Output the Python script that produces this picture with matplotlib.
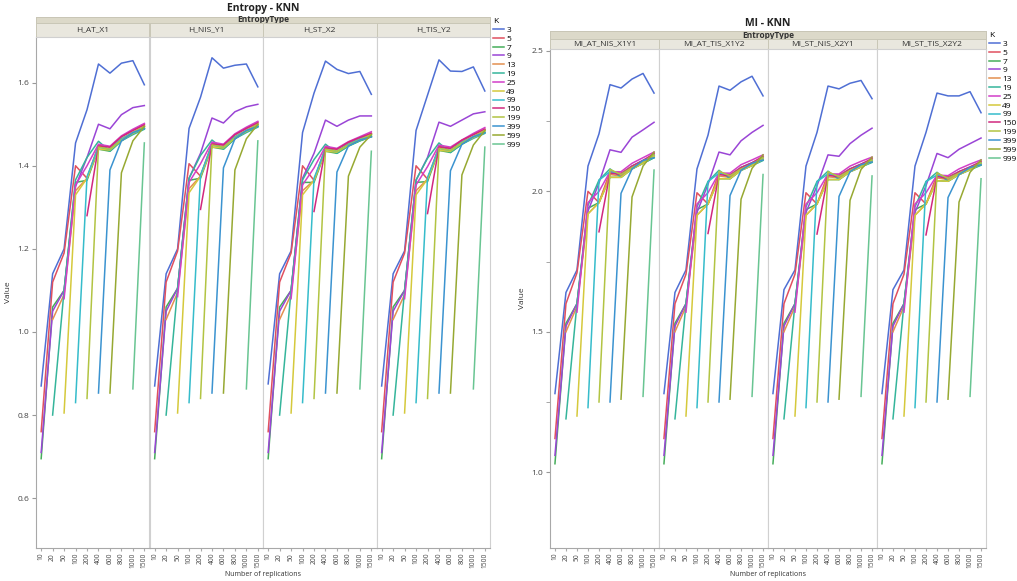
import numpy as np
import matplotlib
matplotlib.use("Agg")
import matplotlib.pyplot as plt
from matplotlib.lines import Line2D

plt.rcParams['font.family'] = ['Open Sans', 'DejaVu Sans']

# Data
reps = [10, 20, 50, 100, 200, 400, 600, 800, 1000, 1500]
k_values = [3, 5, 7, 9, 13, 19, 25, 49, 99, 150, 199, 399, 599, 999]
k_colors = ['#4f6fd4', '#e0505f', '#45ad5a', '#9a45d6', '#e39050', '#35b59b', '#d23fc9',
            '#d5c93c', '#36bccb', '#d1287e', '#b2c443', '#3b93d0', '#97a932', '#69c592']

entropy_types = ['H_AT_X1', 'H_NIS_Y1', 'H_ST_X2', 'H_TIS_Y2']
mi_types = ['MI_AT_NIS_X1Y1', 'MI_AT_TIS_X1Y2', 'MI_ST_NIS_X2Y1', 'MI_ST_TIS_X2Y2']

N = None
# one row per K (same order as k_values), one column per replication count
h_at_x1 = [
    [0.870, 1.140, 1.200, 1.455, 1.535, 1.645, 1.623, 1.647, 1.653, 1.595],
    [0.760, 1.120, 1.190, 1.400, 1.370, 1.450, 1.445, 1.470, 1.485, 1.500],
    [0.695, 1.060, 1.100, 1.360, 1.365, 1.440, 1.435, 1.460, 1.478, 1.490],
    [0.710, 1.050, 1.100, 1.350, 1.420, 1.500, 1.489, 1.523, 1.540, 1.545],
    [N, 1.030, 1.090, 1.340, 1.370, 1.445, 1.440, 1.465, 1.480, 1.495],
    [N, 0.800, 1.100, 1.366, 1.420, 1.459, 1.435, 1.460, 1.475, 1.488],
    [N, N, 1.080, 1.354, 1.400, 1.452, 1.447, 1.472, 1.488, 1.502],
    [N, N, 0.805, 1.330, 1.370, 1.440, 1.438, 1.462, 1.478, 1.492],
    [N, N, N, 0.830, 1.374, 1.445, 1.440, 1.465, 1.480, 1.490],
    [N, N, N, N, 1.280, 1.447, 1.445, 1.470, 1.485, 1.498],
    [N, N, N, N, 0.840, 1.445, 1.440, 1.462, 1.480, 1.495],
    [N, N, N, N, N, 0.853, 1.390, 1.460, 1.480, 1.490],
    [N, N, N, N, N, N, 0.853, 1.383, 1.460, 1.495],
    [N, N, N, N, N, N, N, N, 0.863, 1.455],
]
h_nis_y1 = [
    [0.870, 1.140, 1.200, 1.490, 1.565, 1.660, 1.635, 1.642, 1.645, 1.590],
    [0.760, 1.120, 1.195, 1.405, 1.375, 1.455, 1.450, 1.475, 1.490, 1.505],
    [0.695, 1.060, 1.105, 1.365, 1.370, 1.445, 1.440, 1.465, 1.483, 1.495],
    [0.710, 1.050, 1.105, 1.370, 1.430, 1.515, 1.503, 1.530, 1.542, 1.548],
    [N, 1.030, 1.095, 1.345, 1.375, 1.450, 1.445, 1.470, 1.485, 1.500],
    [N, 0.800, 1.105, 1.370, 1.425, 1.462, 1.440, 1.465, 1.480, 1.493],
    [N, N, 1.085, 1.360, 1.405, 1.457, 1.452, 1.477, 1.493, 1.507],
    [N, N, 0.805, 1.335, 1.375, 1.445, 1.443, 1.467, 1.483, 1.497],
    [N, N, N, 0.830, 1.378, 1.450, 1.445, 1.470, 1.485, 1.495],
    [N, N, N, N, 1.295, 1.452, 1.450, 1.475, 1.490, 1.503],
    [N, N, N, N, 0.840, 1.450, 1.445, 1.467, 1.485, 1.500],
    [N, N, N, N, N, 0.853, 1.395, 1.465, 1.485, 1.495],
    [N, N, N, N, N, N, 0.853, 1.390, 1.465, 1.500],
    [N, N, N, N, N, N, N, N, 0.863, 1.460],
]
h_st_x2 = [
    [0.875, 1.140, 1.195, 1.480, 1.575, 1.652, 1.632, 1.622, 1.627, 1.572],
    [0.760, 1.120, 1.190, 1.400, 1.365, 1.445, 1.440, 1.455, 1.465, 1.478],
    [0.695, 1.060, 1.100, 1.360, 1.360, 1.435, 1.430, 1.448, 1.460, 1.470],
    [0.710, 1.050, 1.100, 1.370, 1.430, 1.510, 1.495, 1.510, 1.520, 1.520],
    [N, 1.030, 1.090, 1.340, 1.365, 1.440, 1.435, 1.450, 1.463, 1.475],
    [N, 0.800, 1.100, 1.366, 1.415, 1.452, 1.430, 1.447, 1.460, 1.470],
    [N, N, 1.080, 1.354, 1.395, 1.447, 1.442, 1.458, 1.470, 1.482],
    [N, N, 0.805, 1.330, 1.365, 1.435, 1.433, 1.450, 1.462, 1.472],
    [N, N, N, 0.830, 1.370, 1.440, 1.435, 1.452, 1.465, 1.472],
    [N, N, N, N, 1.290, 1.442, 1.440, 1.457, 1.468, 1.478],
    [N, N, N, N, 0.840, 1.440, 1.435, 1.450, 1.463, 1.475],
    [N, N, N, N, N, 0.853, 1.385, 1.448, 1.462, 1.470],
    [N, N, N, N, N, N, 0.853, 1.375, 1.445, 1.475],
    [N, N, N, N, N, N, N, N, 0.863, 1.435],
]
h_tis_y2 = [
    [0.870, 1.140, 1.195, 1.485, 1.570, 1.655, 1.628, 1.627, 1.638, 1.580],
    [0.760, 1.120, 1.190, 1.400, 1.368, 1.447, 1.442, 1.460, 1.475, 1.488],
    [0.695, 1.060, 1.100, 1.360, 1.362, 1.437, 1.432, 1.452, 1.468, 1.480],
    [0.710, 1.050, 1.100, 1.365, 1.420, 1.505, 1.495, 1.510, 1.525, 1.530],
    [N, 1.030, 1.090, 1.340, 1.368, 1.442, 1.437, 1.455, 1.470, 1.485],
    [N, 0.800, 1.100, 1.366, 1.418, 1.455, 1.432, 1.452, 1.466, 1.478],
    [N, N, 1.080, 1.354, 1.398, 1.450, 1.445, 1.462, 1.478, 1.492],
    [N, N, 0.805, 1.330, 1.368, 1.437, 1.435, 1.455, 1.468, 1.482],
    [N, N, N, 0.830, 1.372, 1.442, 1.437, 1.457, 1.470, 1.480],
    [N, N, N, N, 1.285, 1.445, 1.442, 1.462, 1.475, 1.488],
    [N, N, N, N, 0.840, 1.442, 1.437, 1.455, 1.470, 1.485],
    [N, N, N, N, N, 0.853, 1.388, 1.452, 1.470, 1.480],
    [N, N, N, N, N, N, 0.853, 1.378, 1.450, 1.485],
    [N, N, N, N, N, N, N, N, 0.863, 1.445],
]

mi_at_nis = [
    [1.280, 1.640, 1.720, 2.090, 2.205, 2.380, 2.368, 2.400, 2.420, 2.350],
    [1.120, 1.600, 1.710, 2.000, 1.960, 2.070, 2.065, 2.090, 2.110, 2.130],
    [1.030, 1.530, 1.600, 1.940, 1.960, 2.050, 2.050, 2.080, 2.100, 2.120],
    [1.060, 1.520, 1.600, 1.930, 2.030, 2.148, 2.139, 2.193, 2.219, 2.246],
    [N, 1.500, 1.590, 1.920, 1.960, 2.060, 2.055, 2.085, 2.105, 2.125],
    [N, 1.190, 1.600, 1.950, 2.040, 2.080, 2.050, 2.080, 2.100, 2.120],
    [N, N, 1.570, 1.960, 2.000, 2.070, 2.070, 2.100, 2.120, 2.140],
    [N, N, 1.200, 1.920, 1.960, 2.050, 2.050, 2.080, 2.100, 2.125],
    [N, N, N, 1.230, 2.040, 2.070, 2.060, 2.090, 2.110, 2.130],
    [N, N, N, N, 1.856, 2.065, 2.060, 2.090, 2.110, 2.135],
    [N, N, N, N, 1.250, 2.078, 2.060, 2.085, 2.105, 2.130],
    [N, N, N, N, N, 1.250, 1.993, 2.080, 2.110, 2.120],
    [N, N, N, N, N, N, 1.260, 1.980, 2.090, 2.140],
    [N, N, N, N, N, N, N, N, 1.270, 2.076],
]
mi_at_tis = [
    [1.280, 1.640, 1.720, 2.080, 2.200, 2.375, 2.360, 2.390, 2.410, 2.340],
    [1.120, 1.600, 1.705, 1.995, 1.955, 2.065, 2.060, 2.085, 2.100, 2.120],
    [1.030, 1.530, 1.600, 1.935, 1.955, 2.045, 2.045, 2.075, 2.092, 2.112],
    [1.060, 1.520, 1.600, 1.925, 2.025, 2.140, 2.130, 2.180, 2.210, 2.235],
    [N, 1.500, 1.590, 1.915, 1.955, 2.055, 2.050, 2.080, 2.097, 2.115],
    [N, 1.190, 1.600, 1.945, 2.035, 2.075, 2.045, 2.075, 2.092, 2.110],
    [N, N, 1.570, 1.955, 1.995, 2.065, 2.065, 2.095, 2.112, 2.130],
    [N, N, 1.200, 1.915, 1.955, 2.045, 2.045, 2.075, 2.092, 2.115],
    [N, N, N, 1.230, 2.035, 2.065, 2.055, 2.085, 2.102, 2.120],
    [N, N, N, N, 1.850, 2.060, 2.055, 2.085, 2.102, 2.125],
    [N, N, N, N, 1.250, 2.072, 2.055, 2.080, 2.097, 2.120],
    [N, N, N, N, N, 1.250, 1.985, 2.075, 2.100, 2.112],
    [N, N, N, N, N, N, 1.260, 1.972, 2.082, 2.130],
    [N, N, N, N, N, N, N, N, 1.270, 2.060],
]
mi_st_nis = [
    [1.280, 1.650, 1.720, 2.090, 2.210, 2.375, 2.365, 2.385, 2.395, 2.330],
    [1.120, 1.600, 1.705, 1.995, 1.955, 2.062, 2.058, 2.080, 2.095, 2.112],
    [1.030, 1.530, 1.600, 1.935, 1.955, 2.042, 2.042, 2.070, 2.087, 2.105],
    [1.060, 1.520, 1.600, 1.925, 2.020, 2.130, 2.125, 2.170, 2.200, 2.225],
    [N, 1.500, 1.590, 1.915, 1.955, 2.052, 2.048, 2.075, 2.092, 2.108],
    [N, 1.190, 1.600, 1.945, 2.035, 2.072, 2.042, 2.070, 2.087, 2.103],
    [N, N, 1.570, 1.955, 1.995, 2.062, 2.062, 2.090, 2.107, 2.122],
    [N, N, 1.200, 1.915, 1.955, 2.042, 2.042, 2.070, 2.087, 2.108],
    [N, N, N, 1.230, 2.035, 2.062, 2.052, 2.080, 2.097, 2.112],
    [N, N, N, N, 1.848, 2.057, 2.052, 2.080, 2.097, 2.117],
    [N, N, N, N, 1.250, 2.070, 2.052, 2.075, 2.092, 2.112],
    [N, N, N, N, N, 1.250, 1.982, 2.070, 2.095, 2.105],
    [N, N, N, N, N, N, 1.260, 1.968, 2.078, 2.122],
    [N, N, N, N, N, N, N, N, 1.270, 2.055],
]
mi_st_tis = [
    [1.280, 1.650, 1.720, 2.090, 2.210, 2.350, 2.340, 2.340, 2.355, 2.280],
    [1.120, 1.600, 1.705, 1.995, 1.955, 2.058, 2.052, 2.070, 2.085, 2.102],
    [1.030, 1.530, 1.600, 1.935, 1.955, 2.038, 2.036, 2.060, 2.077, 2.095],
    [1.060, 1.520, 1.600, 1.925, 2.020, 2.135, 2.120, 2.150, 2.170, 2.190],
    [N, 1.500, 1.590, 1.915, 1.955, 2.048, 2.042, 2.065, 2.082, 2.098],
    [N, 1.190, 1.600, 1.945, 2.035, 2.068, 2.036, 2.060, 2.077, 2.093],
    [N, N, 1.570, 1.955, 1.995, 2.058, 2.056, 2.080, 2.097, 2.112],
    [N, N, 1.200, 1.915, 1.955, 2.038, 2.036, 2.060, 2.077, 2.098],
    [N, N, N, 1.230, 2.035, 2.058, 2.046, 2.070, 2.087, 2.102],
    [N, N, N, N, 1.845, 2.053, 2.046, 2.070, 2.087, 2.107],
    [N, N, N, N, 1.250, 2.066, 2.046, 2.065, 2.082, 2.102],
    [N, N, N, N, N, 1.250, 1.978, 2.060, 2.085, 2.095],
    [N, N, N, N, N, N, 1.260, 1.962, 2.068, 2.112],
    [N, N, N, N, N, N, N, N, 1.270, 2.045],
]

W, H = 1017, 581
fig = plt.figure(figsize=(W / 100, H / 100), dpi=100)
fig.patch.set_facecolor('white')


def box(x0, y0, x1, y1):
    # pixel box (top-left origin) -> figure fraction rect
    return [x0 / W, 1 - y1 / H, (x1 - x0) / W, (y1 - y0) / H]


def strip(x0, y0, x1, y1, text, color, bold=False):
    ax = fig.add_axes(box(x0, y0, x1, y1))
    ax.set_facecolor(color)
    ax.set_xticks([])
    ax.set_yticks([])
    for s in ax.spines.values():
        s.set_color('#c9c6b6')
        s.set_linewidth(0.7)
    ax.text(0.5, 0.5, text, ha='center', va='center', fontsize=6,
            fontweight='bold' if bold else 'normal', color='#333333',
            transform=ax.transAxes)


def draw_block(x0, x1, title_y, s0, s1, top, bottom, names, tables, title,
               ylim, yticks, minor, leg_x, leg_y):
    pw = (x1 - x0) / 4
    fig.text((x0 + x1) / 2 / W, 1 - title_y / H, title, ha='center', va='center',
             fontsize=7.5, fontweight='bold', color='#222222')
    strip(x0, s0, x1, s1, 'EntropyType', '#dcd9c9', bold=True)
    for i, (name, table) in enumerate(zip(names, tables)):
        strip(x0 + i * pw, s1, x0 + (i + 1) * pw, top, name, '#e9e7de')
        ax = fig.add_axes(box(x0 + i * pw, top, x0 + (i + 1) * pw, bottom))
        for row, color in zip(table, k_colors):
            vals = np.array([np.nan if v is None else v for v in row])
            ax.plot(range(len(reps)), vals, color=color, lw=1.1)
        ax.set_xlim(-0.45, len(reps) - 0.55)
        ax.set_ylim(*ylim)
        ax.set_xticks(range(len(reps)))
        ax.set_xticklabels([str(r) for r in reps], rotation=90, fontsize=4.8,
                           color='#444444')
        ax.tick_params(axis='x', length=2, color='#aaaaaa', pad=1.5)
        for s in ax.spines.values():
            s.set_color('#d0d0d0')
            s.set_linewidth(0.8)
        if i == 0:
            ax.set_yticks(yticks)
            ax.set_yticklabels([f'{t:.1f}' for t in yticks], fontsize=6,
                               color='#444444')
            if minor:
                ax.set_yticks(minor, minor=True)
            ax.tick_params(axis='y', which='both', length=3, color='#999999', pad=2)
            ax.spines['left'].set_color('#a8a8a8')
            ax.set_ylabel('Value', fontsize=6, color='#333333', labelpad=4)
        else:
            ax.set_yticks([])
        ax.spines['bottom'].set_color('#a8a8a8')
    fig.text((x0 + x1) / 2 / W, 1 - 575 / H, 'Number of replications', ha='center',
             va='center', fontsize=5, color='#333333')
    handles = [Line2D([0], [0], color=c, lw=1.1) for c in k_colors]
    leg = fig.legend(handles, [str(k) for k in k_values], loc='upper left',
                     bbox_to_anchor=(leg_x / W, 1 - leg_y / H), frameon=False,
                     fontsize=6, title='K', title_fontsize=6, handlelength=1.3,
                     handletextpad=0.3, labelspacing=0.12, borderaxespad=0,
                     borderpad=0)
    leg._legend_box.align = 'left'


draw_block(36, 490, 9, 17, 23, 37, 548, entropy_types,
           [h_at_x1, h_nis_y1, h_st_x2, h_tis_y2], 'Entropy - KNN',
           (0.48, 1.71), [0.6, 0.8, 1.0, 1.2, 1.4, 1.6], None, 493, 18)
draw_block(550, 986, 24, 31, 39, 49, 548, mi_types,
           [mi_at_nis, mi_at_tis, mi_st_nis, mi_st_tis], 'MI - KNN',
           (0.73, 2.507), [1.0, 1.5, 2.0, 2.5], [1.25, 1.75, 2.25], 989, 32)

fig.savefig('out.png', dpi=100)
